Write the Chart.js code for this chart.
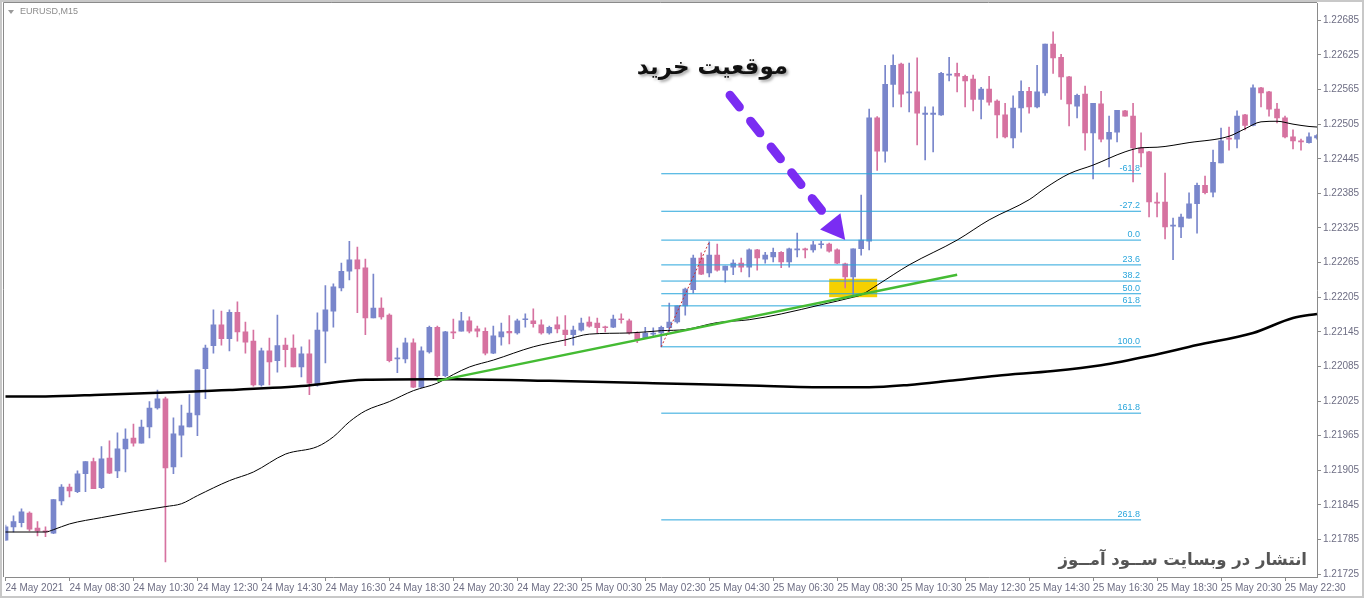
<!DOCTYPE html>
<html>
<head>
<meta charset="utf-8">
<script src="https://cdn.jsdelivr.net/npm/chart.js@4.4.1/dist/chart.umd.min.js"></script>
<style>
html, body { margin: 0; padding: 0; background: #fff; }
#wrap { width: 1364px; height: 598px; }
</style>
</head>
<body>
<div id="wrap"><canvas id="eurChart" width="1364" height="598"></canvas></div>
<script>
const symbolTitle = 'EURUSD,M15'

// 15 minute bars, first bar 24 May 06:30
const barCount = 165
const barTimes = Array.from({ length: barCount }, (_, i) => {
    const m = 6 * 60 + 30 + i * 15
    const day = 24 + Math.floor(m / 1440)
    const mm = m % 1440
    return `${day} May ${String(Math.floor(mm / 60)).padStart(2, '0')}:${String(mm % 60).padStart(2, '0')}`
})

const tickEvery = 8
const tickLabels = [
    '24 May 2021', '24 May 08:30', '24 May 10:30', '24 May 12:30', '24 May 14:30', '24 May 16:30',
    '24 May 18:30', '24 May 20:30', '24 May 22:30', '25 May 00:30', '25 May 02:30', '25 May 04:30',
    '25 May 06:30', '25 May 08:30', '25 May 10:30', '25 May 12:30', '25 May 14:30', '25 May 16:30',
    '25 May 18:30', '25 May 20:30', '25 May 22:30',
]

const priceTicks = [
    1.21725, 1.21785, 1.21845, 1.21905, 1.21965, 1.22025, 1.22085, 1.22145, 1.22205,
    1.22265, 1.22325, 1.22385, 1.22445, 1.22505, 1.22565, 1.22625, 1.22685,
]

const opens = [
    1.21784, 1.21807, 1.21814, 1.21831, 1.21805, 1.21800, 1.21796, 1.21852, 1.21876, 1.21868,
    1.21899, 1.21920, 1.21875, 1.21926, 1.21904, 1.21942, 1.21961, 1.21952, 1.21980, 1.22013,
    1.22029, 1.21911, 1.21966, 1.21980, 1.22001, 1.22081, 1.22121, 1.22157, 1.22133, 1.22179,
    1.22145, 1.22129, 1.22053, 1.22112, 1.22095, 1.22122, 1.22117, 1.22084, 1.22107, 1.22053,
    1.22146, 1.22181, 1.22221, 1.22250, 1.22270, 1.22256, 1.22169, 1.22186, 1.22174, 1.22098,
    1.22098, 1.22126, 1.22049, 1.22110, 1.22153, 1.22069, 1.22145, 1.22146, 1.22164, 1.22150,
    1.22146, 1.22108, 1.22136, 1.22146, 1.22143, 1.22166, 1.22164, 1.22157, 1.22143, 1.22157,
    1.22148, 1.22140, 1.22148, 1.22162, 1.22160, 1.22153, 1.22153, 1.22167, 1.22164, 1.22143,
    1.22134, 1.22141, 1.22143, 1.22152, 1.22162, 1.22190, 1.22218, 1.22273, 1.22247, 1.22278,
    1.22252, 1.22257, 1.22264, 1.22257, 1.22287, 1.22271, 1.22275, 1.22283, 1.22266, 1.22287,
    1.22289, 1.22287, 1.22296, 1.22297, 1.22287, 1.22263, 1.22240, 1.22289, 1.22302, 1.22516,
    1.22458, 1.22574, 1.22609, 1.22559, 1.22561, 1.22522, 1.22522, 1.22521, 1.22590, 1.22593,
    1.22588, 1.22583, 1.22548, 1.22566, 1.22545, 1.22521, 1.22481, 1.22533, 1.22562, 1.22535,
    1.22559, 1.22644, 1.22621, 1.22587, 1.22536, 1.22557, 1.22490, 1.22540, 1.22479, 1.22491,
    1.22528, 1.22519, 1.22464, 1.22457, 1.22370, 1.22370, 1.22328, 1.22327, 1.22342, 1.22367,
    1.22399, 1.22387, 1.22438, 1.22481, 1.22479, 1.22521, 1.22503, 1.22568, 1.22561, 1.22531,
    1.22516, 1.22483, 1.22476, 1.22473, 1.22481,
]
const highs = [
    1.21810, 1.21826, 1.21838, 1.21833, 1.21816, 1.21807, 1.21854, 1.21880, 1.21881, 1.21904,
    1.21920, 1.21926, 1.21946, 1.21956, 1.21970, 1.21977, 1.21985, 1.21992, 1.22024, 1.22044,
    1.22032, 1.21996, 1.22018, 1.22036, 1.22079, 1.22122, 1.22183, 1.22181, 1.22183, 1.22197,
    1.22162, 1.22148, 1.22117, 1.22134, 1.22174, 1.22134, 1.22140, 1.22119, 1.22131, 1.22178,
    1.22225, 1.22228, 1.22264, 1.22302, 1.22292, 1.22271, 1.22245, 1.22204, 1.22176, 1.22117,
    1.22134, 1.22133, 1.22119, 1.22155, 1.22155, 1.22146, 1.22167, 1.22179, 1.22171, 1.22155,
    1.22152, 1.22155, 1.22160, 1.22173, 1.22167, 1.22176, 1.22185, 1.22166, 1.22155, 1.22171,
    1.22173, 1.22155, 1.22169, 1.22171, 1.22169, 1.22155, 1.22174, 1.22176, 1.22167, 1.22145,
    1.22153, 1.22152, 1.22155, 1.22195, 1.22190, 1.22221, 1.22278, 1.22282, 1.22301, 1.22297,
    1.22259, 1.22270, 1.22273, 1.22289, 1.22288, 1.22283, 1.22290, 1.22284, 1.22290, 1.22316,
    1.22290, 1.22302, 1.22302, 1.22299, 1.22289, 1.22264, 1.22289, 1.22382, 1.22531, 1.22518,
    1.22607, 1.22625, 1.22611, 1.22611, 1.22620, 1.22535, 1.22535, 1.22595, 1.22621, 1.22611,
    1.22590, 1.22590, 1.22569, 1.22588, 1.22547, 1.22541, 1.22554, 1.22580, 1.22569, 1.22607,
    1.22644, 1.22665, 1.22626, 1.22588, 1.22557, 1.22571, 1.22541, 1.22562, 1.22519, 1.22529,
    1.22529, 1.22541, 1.22490, 1.22458, 1.22386, 1.22420, 1.22342, 1.22349, 1.22386, 1.22403,
    1.22415, 1.22460, 1.22498, 1.22500, 1.22528, 1.22522, 1.22573, 1.22569, 1.22562, 1.22541,
    1.22519, 1.22495, 1.22479, 1.22490, 1.22487,
]
const lows = [
    1.21783, 1.21798, 1.21807, 1.21800, 1.21791, 1.21790, 1.21795, 1.21845, 1.21859, 1.21866,
    1.21868, 1.21873, 1.21873, 1.21899, 1.21892, 1.21902, 1.21947, 1.21952, 1.21961, 1.22011,
    1.21746, 1.21899, 1.21928, 1.21980, 1.21965, 1.22029, 1.22108, 1.22122, 1.22112, 1.22129,
    1.22108, 1.22051, 1.22051, 1.22053, 1.22075, 1.22084, 1.22084, 1.22067, 1.22036, 1.22051,
    1.22091, 1.22153, 1.22216, 1.22235, 1.22178, 1.22140, 1.22169, 1.22167, 1.22093, 1.22074,
    1.22091, 1.22048, 1.22048, 1.22108, 1.22067, 1.22067, 1.22133, 1.22146, 1.22143, 1.22136,
    1.22105, 1.22107, 1.22122, 1.22124, 1.22141, 1.22153, 1.22153, 1.22141, 1.22141, 1.22143,
    1.22121, 1.22122, 1.22146, 1.22153, 1.22143, 1.22145, 1.22152, 1.22160, 1.22141, 1.22126,
    1.22134, 1.22136, 1.22119, 1.22145, 1.22160, 1.22174, 1.22212, 1.22244, 1.22240, 1.22250,
    1.22231, 1.22244, 1.22249, 1.22240, 1.22252, 1.22264, 1.22266, 1.22256, 1.22257, 1.22275,
    1.22273, 1.22283, 1.22290, 1.22283, 1.22263, 1.22221, 1.22209, 1.22278, 1.22287, 1.22425,
    1.22439, 1.22535, 1.22535, 1.22526, 1.22469, 1.22443, 1.22457, 1.22520, 1.22580, 1.22561,
    1.22535, 1.22528, 1.22514, 1.22538, 1.22481, 1.22481, 1.22464, 1.22491, 1.22524, 1.22533,
    1.22555, 1.22593, 1.22548, 1.22502, 1.22516, 1.22460, 1.22410, 1.22474, 1.22431, 1.22474,
    1.22519, 1.22405, 1.22431, 1.22344, 1.22344, 1.22306, 1.22270, 1.22308, 1.22342, 1.22316,
    1.22384, 1.22379, 1.22438, 1.22460, 1.22464, 1.22495, 1.22502, 1.22535, 1.22519, 1.22507,
    1.22481, 1.22462, 1.22460, 1.22472, 1.22479,
]
const closes = [
    1.21807, 1.21816, 1.21833, 1.21803, 1.21800, 1.21798, 1.21854, 1.21876, 1.21869, 1.21899,
    1.21920, 1.21873, 1.21925, 1.21900, 1.21942, 1.21959, 1.21952, 1.21980, 1.22013, 1.22029,
    1.21909, 1.21968, 1.21982, 1.22004, 1.22079, 1.22117, 1.22157, 1.22133, 1.22179, 1.22145,
    1.22127, 1.22053, 1.22112, 1.22093, 1.22121, 1.22114, 1.22084, 1.22107, 1.22056, 1.22148,
    1.22183, 1.22223, 1.22250, 1.22270, 1.22254, 1.22169, 1.22186, 1.22171, 1.22095, 1.22100,
    1.22126, 1.22049, 1.22112, 1.22153, 1.22069, 1.22145, 1.22143, 1.22164, 1.22146, 1.22146,
    1.22108, 1.22138, 1.22145, 1.22143, 1.22164, 1.22167, 1.22159, 1.22143, 1.22153, 1.22150,
    1.22140, 1.22148, 1.22160, 1.22155, 1.22152, 1.22152, 1.22167, 1.22166, 1.22143, 1.22131,
    1.22143, 1.22143, 1.22153, 1.22162, 1.22190, 1.22219, 1.22273, 1.22245, 1.22278, 1.22252,
    1.22259, 1.22264, 1.22257, 1.22287, 1.22273, 1.22278, 1.22283, 1.22266, 1.22289, 1.22289,
    1.22287, 1.22296, 1.22297, 1.22285, 1.22264, 1.22240, 1.22289, 1.22304, 1.22516, 1.22458,
    1.22574, 1.22607, 1.22557, 1.22561, 1.22524, 1.22524, 1.22524, 1.22593, 1.22592, 1.22588,
    1.22580, 1.22548, 1.22566, 1.22543, 1.22521, 1.22483, 1.22533, 1.22562, 1.22535, 1.22561,
    1.22644, 1.22620, 1.22587, 1.22540, 1.22555, 1.22490, 1.22541, 1.22479, 1.22491, 1.22529,
    1.22519, 1.22464, 1.22455, 1.22370, 1.22368, 1.22327, 1.22330, 1.22344, 1.22367, 1.22399,
    1.22386, 1.22439, 1.22476, 1.22479, 1.22519, 1.22503, 1.22568, 1.22559, 1.22531, 1.22516,
    1.22483, 1.22476, 1.22474, 1.22483, 1.22485,
]

// moving averages, read at some bars
const maFastBars = [0, 5, 6, 8, 12, 16, 20, 22, 24, 28, 31, 35, 39, 41, 43, 45, 48, 51, 54, 56, 58, 61, 66, 70, 73, 78, 82, 85, 89, 93, 97, 102, 106, 107, 109, 113, 119, 123, 128, 130, 133, 136, 140, 142, 144, 148, 153, 155, 157, 159, 161, 163, 164]
const maFastValues = [
    1.21798, 1.21798, 1.21802, 1.21812, 1.21823, 1.21833, 1.21842, 1.21847, 1.21861, 1.21887,
    1.21902, 1.21933, 1.21946, 1.21963, 1.21989, 1.22008, 1.22024, 1.22043, 1.22056, 1.22071,
    1.22084, 1.22096, 1.22119, 1.22131, 1.22141, 1.22143, 1.22147, 1.22149, 1.22161, 1.22166,
    1.22176, 1.22192, 1.22205, 1.22209, 1.22226, 1.22261, 1.22304, 1.22339, 1.22374, 1.22394,
    1.22419, 1.22434, 1.22457, 1.22464, 1.22465, 1.22473, 1.22484, 1.22497, 1.22509, 1.22510,
    1.22505, 1.22501, 1.22500,
]
const maSlowBars = [0, 5, 12, 20, 28, 37, 45, 53, 56, 68, 81, 93, 103, 108, 113, 118, 124, 131, 137, 143, 149, 156, 161, 164]
const maSlowValues = [
    1.22033, 1.22033, 1.22036, 1.22040, 1.22044, 1.22051, 1.22062, 1.22063, 1.22063, 1.22060,
    1.22056, 1.22052, 1.22049, 1.22049, 1.22053, 1.22060, 1.22069, 1.22077, 1.22087, 1.22103,
    1.22122, 1.22143, 1.22169, 1.22176,
]

// fibonacci retracement
const fibLevels = ['-61.8', '-27.2', '0.0', '23.6', '38.2', '50.0', '61.8', '100.0', '161.8', '261.8']
const fibPrices = [1.22419, 1.22354, 1.22304, 1.22261, 1.22233, 1.22211, 1.22190, 1.22119, 1.22004, 1.21819]
const fibFromBar = 82
const fibToBar = 142
const fibBaseBars = [82, 88]
const fibBasePrices = [1.22119, 1.22301]

// trend line
const trendBars = [54, 119]
const trendPrices = [1.22060, 1.22244]

// highlighted zone
const zoneBars = [103, 109]
const zonePrices = [1.22205, 1.22237]

// arrow and label
const arrowFrom = [90.6, 1.22555]
const arrowTo = [105, 1.22304]
const buyLabel = 'موقعیت خرید'
const buyLabelAt = [88.4, 1.22602]
const siteLabel = 'انتشار در وبسایت ســود آمــوز'

const bullColor = '#7986cb'
const bearColor = '#d672a0'
const fibColor = '#2aa6dc'
const axisColor = '#8a8a8a'
const labelColor = '#6e6e84'

function sparse(bars, values) {
    const arr = new Array(barCount).fill(null)
    bars.forEach((b, j) => { arr[b] = values[j] })
    return arr
}

const candleColors = opens.map((o, i) => (closes[i] >= o ? bullColor : bearColor))

const fibDatasets = fibPrices.map(p => ({
    type: 'line',
    data: sparse([fibFromBar, fibToBar], [p, p]),
    borderColor: fibColor,
    borderWidth: 1,
    pointRadius: 0,
    spanGaps: true,
    order: 3,
}))

const overlay = {
    id: 'overlay',
    beforeDatasetsDraw(chart) {
        const { ctx, scales: { x, y } } = chart
        const x0 = x.getPixelForValue(zoneBars[0])
        const x1 = x.getPixelForValue(zoneBars[1])
        const y0 = y.getPixelForValue(zonePrices[1])
        const y1 = y.getPixelForValue(zonePrices[0])
        ctx.save()
        ctx.fillStyle = '#f6d000'
        ctx.fillRect(x0, y0, x1 - x0, y1 - y0)
        ctx.restore()
    },
    afterDatasetsDraw(chart) {
        const { ctx, chartArea, scales: { x, y } } = chart
        ctx.save()

        // fib labels
        ctx.font = '9px "Liberation Sans", sans-serif'
        ctx.fillStyle = fibColor
        ctx.textAlign = 'right'
        ctx.textBaseline = 'bottom'
        fibLevels.forEach((lv, k) => {
            ctx.fillText(lv, x.getPixelForValue(fibToBar) - 1, y.getPixelForValue(fibPrices[k]) - 1)
        })

        // dashed arrow
        const ax = x.getPixelForValue(arrowFrom[0])
        const ay = y.getPixelForValue(arrowFrom[1])
        const tx = x.getPixelForValue(arrowTo[0])
        const ty = y.getPixelForValue(arrowTo[1])
        const len = Math.hypot(tx - ax, ty - ay)
        const ux = (tx - ax) / len
        const uy = (ty - ay) / len
        const headLen = 24
        const headW = 13
        const bx = tx - ux * headLen
        const by = ty - uy * headLen
        ctx.strokeStyle = '#7a2cf2'
        ctx.fillStyle = '#7a2cf2'
        ctx.lineWidth = 9
        ctx.lineCap = 'round'
        ctx.setLineDash([15, 18])
        ctx.beginPath()
        ctx.moveTo(ax, ay)
        ctx.lineTo(bx - ux * 6, by - uy * 6)
        ctx.stroke()
        ctx.setLineDash([])
        ctx.beginPath()
        ctx.moveTo(tx, ty)
        ctx.lineTo(bx - uy * headW, by + ux * headW)
        ctx.lineTo(bx + uy * headW, by - ux * headW)
        ctx.closePath()
        ctx.fill()

        // persian texts
        ctx.textAlign = 'center'
        ctx.textBaseline = 'middle'
        ctx.font = 'bold 23px "DejaVu Sans", sans-serif'
        ctx.shadowColor = 'rgba(0,0,0,0.35)'
        ctx.shadowBlur = 3
        ctx.shadowOffsetX = 2
        ctx.shadowOffsetY = 2
        ctx.fillStyle = '#111'
        ctx.fillText(buyLabel, x.getPixelForValue(buyLabelAt[0]), y.getPixelForValue(buyLabelAt[1]))
        ctx.shadowColor = 'transparent'

        ctx.textAlign = 'right'
        ctx.font = 'bold 16.5px "DejaVu Sans", sans-serif'
        ctx.fillStyle = '#555'
        ctx.fillText(siteLabel, chartArea.right - 10, chartArea.bottom - 16)
        ctx.restore()
    },
    afterDraw(chart) {
        const { ctx, chartArea } = chart
        ctx.save()
        ctx.strokeStyle = '#c8c8c8'
        ctx.lineWidth = 2
        ctx.strokeRect(1, 1, chart.width - 2, chart.height - 2)
        ctx.strokeStyle = axisColor
        ctx.lineWidth = 1
        ctx.beginPath()
        ctx.moveTo(3.5, chartArea.bottom)
        ctx.lineTo(3.5, 2.5)
        ctx.lineTo(chartArea.right, 2.5)
        ctx.stroke()

        // title
        ctx.fillStyle = '#9a9a9a'
        ctx.beginPath()
        ctx.moveTo(8, 10)
        ctx.lineTo(14, 10)
        ctx.lineTo(11, 14)
        ctx.closePath()
        ctx.fill()
        ctx.font = '9px "Liberation Sans", sans-serif'
        ctx.fillStyle = '#8c8c8c'
        ctx.textAlign = 'left'
        ctx.textBaseline = 'middle'
        ctx.fillText(symbolTitle, 20, 12)
        ctx.restore()
    },
}

Chart.defaults.font.family = '"Liberation Sans", Arial, sans-serif'

new Chart(document.getElementById('eurChart'), {
    type: 'bar',
    data: {
        labels: barTimes,
        datasets: [
            {
                label: 'wicks',
                data: lows.map((l, i) => [l, highs[i]]),
                backgroundColor: candleColors,
                barThickness: 1,
                grouped: false,
                order: 5,
            },
            {
                label: 'bodies',
                data: opens.map((o, i) => [o, closes[i]]),
                backgroundColor: candleColors,
                barThickness: 5,
                minBarLength: 1,
                grouped: false,
                order: 4,
            },
            ...fibDatasets,
            {
                type: 'line',
                data: sparse(fibBaseBars, fibBasePrices),
                borderColor: '#cc2b2b',
                borderWidth: 1,
                borderDash: [2, 2],
                pointRadius: 0,
                spanGaps: true,
                order: 2,
            },
            {
                type: 'line',
                data: sparse(maFastBars, maFastValues),
                borderColor: '#000',
                borderWidth: 1,
                pointRadius: 0,
                spanGaps: true,
                cubicInterpolationMode: 'monotone',
                order: 1,
            },
            {
                type: 'line',
                data: sparse(maSlowBars, maSlowValues),
                borderColor: '#000',
                borderWidth: 2.5,
                pointRadius: 0,
                spanGaps: true,
                cubicInterpolationMode: 'monotone',
                order: 1,
            },
            {
                type: 'line',
                data: sparse(trendBars, trendPrices),
                borderColor: '#44bb33',
                borderWidth: 2.5,
                pointRadius: 0,
                spanGaps: true,
                order: 0,
            },
        ],
    },
    options: {
        responsive: false,
        animation: false,
        events: [],
        layout: { padding: { left: 5.5, top: 3, right: 0, bottom: 0 } },
        plugins: {
            legend: { display: false },
            tooltip: { enabled: false },
        },
        scales: {
            x: {
                type: 'category',
                offset: false,
                grid: {
                    offset: false,
                    drawOnChartArea: false,
                    drawTicks: true,
                    tickLength: 4,
                    color: ctx => (ctx.index % tickEvery === 0 ? axisColor : 'rgba(0,0,0,0)'),
                },
                border: { display: true, color: axisColor },
                ticks: {
                    autoSkip: false,
                    maxRotation: 0,
                    minRotation: 0,
                    align: 'start',
                    padding: 1,
                    color: labelColor,
                    font: { size: 10 },
                    callback: (value, index) => (index % tickEvery === 0 ? tickLabels[index / tickEvery] || '' : ''),
                },
                afterFit: scale => {
                    scale.height = 21
                    scale.paddingLeft = 0
                    scale.paddingRight = 0
                },
            },
            y: {
                type: 'linear',
                position: 'right',
                min: 1.21720,
                max: 1.22715,
                grid: {
                    drawOnChartArea: false,
                    drawTicks: true,
                    tickLength: 4,
                    color: axisColor,
                },
                border: { display: true, color: axisColor },
                ticks: {
                    padding: 2,
                    color: labelColor,
                    font: { size: 10 },
                    callback: v => Number(v).toFixed(5),
                },
                afterBuildTicks: scale => { scale.ticks = priceTicks.map(v => ({ value: v })) },
                afterFit: scale => {
                    scale.width = 47
                    scale.paddingTop = 0
                    scale.paddingBottom = 0
                },
            },
        },
    },
    plugins: [overlay],
})
</script>
</body>
</html>
